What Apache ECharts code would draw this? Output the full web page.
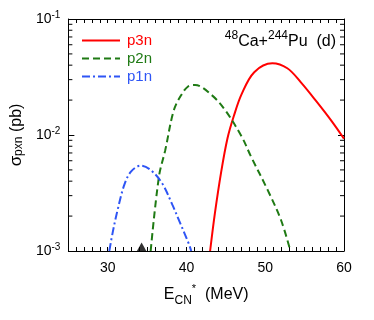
<!DOCTYPE html>
<html>
<head>
<meta charset="utf-8">
<script src="https://cdn.jsdelivr.net/npm/echarts@6/dist/echarts.min.js"></script>
<style>
html,body{margin:0;padding:0;background:#fff;}
#chart{width:374px;height:320px;}
</style>
</head>
<body>
<div id="chart"></div>
<script>
// data: [E*CN (MeV), sigma (pb)]
var p3n = [[43.0,0.001],[43.6,0.0021],[44.4,0.00479],[45.2,0.00933],[46.0,0.0145],[47.0,0.0225],
	[48.6,0.0348],[50.9,0.0415],[52.8,0.0376],[54.5,0.0286],[56.5,0.0195],[58.5,0.0130],[60.0,0.0093]];
var p2n = [[35.45,0.001],[36.5,0.00437],[37.3,0.0074],[38.4,0.0164],[39.4,0.0225],[40.2,0.0262],[41.1,0.027],
	[43.2,0.0221],[44.9,0.0164],[47.0,0.0097],[48.2,0.0065],[50.3,0.00336],[52.0,0.00185],[53.2,0.001]];
var p1n = [[30.2,0.001],[30.65,0.00147],[31.3,0.00233],[32.1,0.00371],[32.95,0.00483],[34.2,0.00544],
	[35.45,0.00499],[36.9,0.00384],[38.2,0.00251],[39.2,0.00174],[40.3,0.00115],[40.6,0.001]];
var expt = [[34.3,0.001]];
var yMinor = [0.002,0.003,0.004,0.005,0.006,0.007,0.008,0.009,
	0.02,0.03,0.04,0.05,0.06,0.07,0.08,0.09];
var xMin = 25, xMax = 60;

var font = 'Liberation Sans, Arial, sans-serif';
var red = '#ff0000', green = '#1f7a14', blue = '#2e55f5';

var myChart = echarts.init(document.getElementById('chart'), null, {renderer:'canvas'});

function expLabel(v){
	var e = Math.round(Math.log(v)/Math.LN10);
	return '{b|10}{e|' + e + '}';
}

var option = {
	animation: false,
	textStyle: { fontFamily: font },
	grid: { left: 65, right: 30, top: 19, bottom: 69 },
	legend: {
		orient: 'vertical', left: 76, top: 28, itemGap: 3,
		itemWidth: 38, itemHeight: 14,
		itemStyle: { opacity: 0 },
		textStyle: { fontFamily: font, fontSize: 15, padding: [0,0,0,2] },
		data: [
			{ name: 'p3n', textStyle: { color: red } },
			{ name: 'p2n', textStyle: { color: green } },
			{ name: 'p1n', textStyle: { color: blue } }
		]
	},
	xAxis: [{
		type: 'value', min: xMin, max: xMax, interval: 1,
		axisLine: { lineStyle: { color: '#000', width: 1 } },
		axisTick: { inside: true, length: 4, lineStyle: { color: '#000' } },
		splitLine: { show: false },
		axisLabel: {
			color: '#000', fontSize: 14, margin: 10, fontFamily: font,
			formatter: function(v){ return (v % 10 === 0) ? String(v) : ''; }
		},
		name: '{b|E}{sub|CN}{sup|*}{b|  (MeV)}',
		nameLocation: 'middle', nameGap: 32,
		nameTextStyle: {
			rich: {
				b: { fontSize: 16, color: '#000', fontFamily: font, verticalAlign: 'bottom', lineHeight: 20 },
				sub: { fontSize: 12, color: '#000', fontFamily: font, verticalAlign: 'bottom', lineHeight: 14, padding: [0,0,-4,0] },
				sup: { fontSize: 11, color: '#000', fontFamily: font, verticalAlign: 'top', lineHeight: 14, padding: [0,0,10,0] }
			}
		}
	}, {
		type: 'value', min: xMin, max: xMax, interval: 1, position: 'top',
		axisLine: { lineStyle: { color: '#000', width: 1 } },
		axisTick: { inside: true, length: 4, lineStyle: { color: '#000' } },
		splitLine: { show: false }, axisLabel: { show: false }
	}],
	yAxis: [{
		type: 'log', logBase: 10, min: 0.001, max: 0.1,
		axisLine: { show: true, lineStyle: { color: '#000', width: 1 } },
		axisTick: { inside: true, length: 6, lineStyle: { color: '#000' } },
		splitLine: { show: false },
		axisLabel: {
			margin: 8, formatter: expLabel,
			rich: {
				b: { fontSize: 14, color: '#000', fontFamily: font },
				e: { fontSize: 10, color: '#000', fontFamily: font, verticalAlign: 'top', padding: [0,0,8,0] }
			}
		},
		name: '{s|σ}{sub|pxn}{b| (pb)}',
		nameLocation: 'middle', nameGap: 42, nameRotate: 90,
		nameTextStyle: {
			rich: {
				s: { fontSize: 17, color: '#000', fontFamily: font },
				b: { fontSize: 16, color: '#000', fontFamily: font },
				sub: { fontSize: 12, color: '#000', fontFamily: font, padding: [0,0,-5,0] }
			}
		}
	}, {
		type: 'log', logBase: 10, min: 0.001, max: 0.1, position: 'right',
		axisLine: { show: true, lineStyle: { color: '#000', width: 1 } },
		axisTick: { inside: true, length: 6, lineStyle: { color: '#000' } },
		splitLine: { show: false }, axisLabel: { show: false }
	}],
	graphic: [{
		type: 'text', right: 38, top: 30,
		style: {
			text: '{sup|48}{b|Ca+}{sup|244}{b|Pu  (d)}',
			rich: {
				b: { fontSize: 16, fill: '#000', fontFamily: font, verticalAlign: 'bottom', lineHeight: 20 },
				sup: { fontSize: 12, fill: '#000', fontFamily: font, verticalAlign: 'top', lineHeight: 14 }
			}
		}
	}],
	series: [{
		name: 'p3n', type: 'line', data: p3n, smooth: 0.35, symbol: 'none',
		lineStyle: { color: red, width: 2 }, itemStyle: { color: red }
	}, {
		name: 'p2n', type: 'line', data: p2n, smooth: 0.35, symbol: 'none',
		lineStyle: { color: green, width: 2, type: [7,4] }, itemStyle: { color: green }
	}, {
		name: 'p1n', type: 'line', data: p1n, smooth: 0.35, symbol: 'none',
		lineStyle: { color: blue, width: 2, type: [8,3,2,3] }, itemStyle: { color: blue }
	}, {
		name: 'expt', type: 'scatter', data: expt, symbol: 'triangle', symbolSize: [10,9],
		symbolOffset: [0,-4], clip: false, itemStyle: { color: '#000' }, silent: true
	}, {
		name: 'yminor', type: 'custom', silent: true, clip: false,
		data: yMinor.map(function(v){ return [xMin, v]; }),
		renderItem: function(params, api){
			var l = api.coord([xMin, api.value(1)]);
			var r = api.coord([xMax, api.value(1)]);
			var st = { stroke: '#000', lineWidth: 1 };
			return { type: 'group', children: [
				{ type: 'line', shape: { x1: l[0], y1: l[1], x2: l[0]+4, y2: l[1] }, style: st },
				{ type: 'line', shape: { x1: r[0], y1: r[1], x2: r[0]-4, y2: r[1] }, style: st }
			]};
		}
	}]
};
myChart.setOption(option);
</script>
</body>
</html>
